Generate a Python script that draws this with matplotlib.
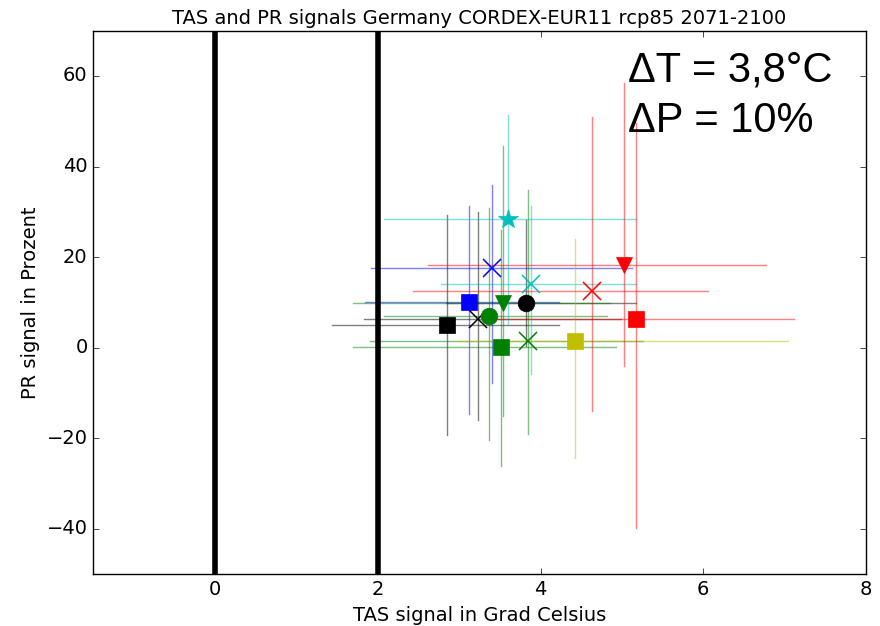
import matplotlib
matplotlib.use("Agg")
import matplotlib.pyplot as plt
import numpy as np

plt.style.use("classic")

# model results (TAS signal in K, PR signal in %)
tas = [2.85, 3.23, 3.82, 3.12, 3.40, 3.37, 3.54, 3.51, 3.84, 3.60, 3.88, 4.42, 4.63, 5.02, 5.17]
pr = [5.1, 6.3, 9.9, 10.0, 17.6, 6.9, 9.9, 0.1, 1.5, 28.3, 14.1, 1.5, 12.4, 18.2, 6.3]
tas_lo = [1.43, 1.83, 2.84, 1.84, 1.91, 2.07, 1.69, 1.69, 1.90, 2.07, 2.78, 2.98, 2.43, 2.61, 3.30]
tas_hi = [4.23, 4.99, 5.17, 4.23, 5.12, 4.82, 4.85, 4.93, 5.26, 5.17, 5.17, 7.04, 6.06, 6.77, 7.12]
pr_lo = [-19.2, -15.9, 0.3, -14.6, -7.8, -20.5, -15.2, -26.2, -19.0, 5.0, -5.8, -24.3, -14.0, -4.0, -39.8]
pr_hi = [29.4, 29.9, 28.1, 31.2, 36.0, 30.8, 44.6, 25.9, 34.9, 51.4, 31.2, 24.0, 51.0, 58.4, 49.7]

colors = ['k', 'k', 'k', 'b', 'b', 'g', 'g', 'g', 'g', 'c', 'c', 'y', 'r', 'r', 'r']
markers = ['s', 'x', 'o', 's', 'x', 'o', 'v', 's', 'x', '*', 'x', 's', 'x', 'v', 's']
msizes = [11, 13, 12, 11, 13, 12, 12, 11, 13, 15, 13, 11, 13, 12, 11]

fig = plt.figure(figsize=(8.8, 6.26), dpi=100)
ax = fig.add_axes([0.106, 0.083, 0.878, 0.868])

for i in range(len(tas)):
    ax.plot([tas_lo[i], tas_hi[i]], [pr[i], pr[i]], color=colors[i], lw=1, alpha=0.5)
    ax.plot([tas[i], tas[i]], [pr_lo[i], pr_hi[i]], color=colors[i], lw=1, alpha=0.5)

for i in range(len(tas)):
    mew = 1.1 if markers[i] == 'x' else 0.5
    ax.plot(tas[i], pr[i], marker=markers[i], color=colors[i], mec=colors[i],
            ms=msizes[i], mew=mew, linestyle='none')

ax.axvline(0, color='k', lw=4)
ax.axvline(2, color='k', lw=4)

ax.set_xlim(-1.5, 8)
ax.set_ylim(-50, 70)
ax.set_xticks([0, 2, 4, 6, 8])
ax.set_yticks([-40, -20, 0, 20, 40, 60])
ax.tick_params(labelsize=14)
ax.set_title("TAS and PR signals Germany CORDEX-EUR11 rcp85 2071-2100", fontsize=14)
ax.set_xlabel("TAS signal in Grad Celsius", fontsize=14)
ax.set_ylabel("PR signal in Prozent", fontsize=14)

ax.text(0.692, 0.906, "\u0394T = 3,8\u00b0C", transform=ax.transAxes, fontsize=30,
        family="Liberation Sans", va='baseline', ha='left')
ax.text(0.692, 0.814, "\u0394P = 10%", transform=ax.transAxes, fontsize=30,
        family="Liberation Sans", va='baseline', ha='left')

fig.savefig("out.png", dpi=100)
